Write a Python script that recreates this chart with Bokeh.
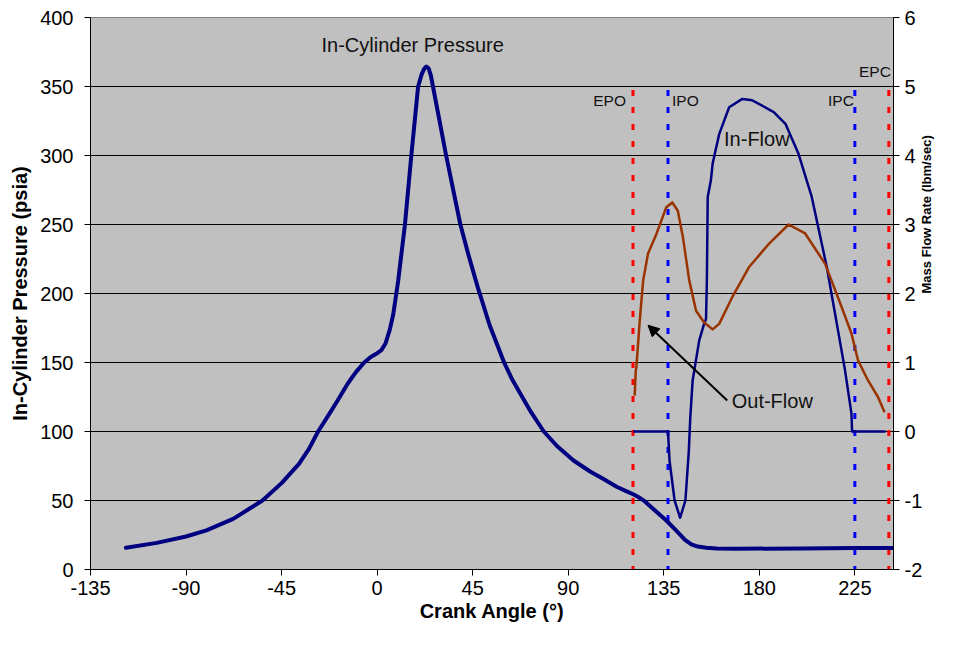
import math
from bokeh.plotting import figure
from bokeh.models import Range1d, LinearAxis, FixedTicker, Label, Arrow, NormalHead
from bokeh.embed import file_html
from bokeh.resources import INLINE

# ---------------- data ----------------
crank_pressure = [-118.3, -103.8, -90, -80.4, -67.8, -60.2, -54, -45, -36.8, -32.1,
                  -27.8, -22, -18.6, -13.9, -10, -6.1, -3, -0.4, 2, 4, 6, 7.6,
                  9.9, 13.1, 16.1, 19.3, 21.0, 22.2, 23.2, 24.3, 25.3, 26.3, 32.5,
                  39.2, 43, 47.3, 53, 59.8, 63.5, 67.6, 72.5, 78.5, 84.7, 92.5,
                  100.3, 106.6, 112.8, 117, 120.6, 123, 126, 131, 136.2, 141, 145,
                  148, 151, 155, 160, 168.9, 200, 225, 246]
pressure_psia = [15.7, 19.3, 23.9, 28.3, 36.7, 44, 50, 62.6, 76.6, 87.4,
                 100, 114, 122.5, 134.6, 143, 150, 154, 156.3, 159, 164, 174, 185,
                 209, 250, 300, 350, 359, 363, 364.5, 363, 358, 350, 300,
                 250, 228, 205, 177, 150, 138, 127, 114, 100, 89.5, 79,
                 71, 65.5, 60, 57, 54.5, 52.5, 49.5, 42.5, 35.5, 28, 21.5,
                 18.2, 16.6, 15.8, 15.3, 15.0, 15.3, 15.5, 15.5]

crank_inflow = [120.6, 137, 137.7, 140.1, 142.7, 145.2, 146.8, 147.5, 148, 148.6,
                151.7, 154, 154.9, 155.3, 155.7, 157.2, 158, 161.1, 165.8, 172,
                176.7, 186.8, 192.3, 198.5, 204.7, 211.8, 220.3, 223.4, 223.7, 239.5]
inflow_rate = [0, 0, -0.42, -1.0, -1.25, -1.0, -0.28, 0.21, 0.45, 0.74,
               1.32, 1.56, 1.63, 2.19, 3.4, 3.64, 3.88, 4.31, 4.7, 4.82,
               4.8, 4.63, 4.46, 4.02, 3.4, 2.38, 0.9, 0.26, 0, 0]

crank_outflow = [121.3, 121.8, 122.1, 123.7, 125.3, 127.6, 131.5, 136.2, 139, 141.6,
                 144, 147, 150.2, 154, 158, 161.1, 167.3, 175.1, 184.5, 193.8,
                 201.6, 211, 218.8, 223.4, 226.5, 231.2, 235.9, 239]
outflow_rate = [0.52, 0.88, 0.93, 1.61, 2.19, 2.58, 2.86, 3.25, 3.32, 3.2,
                2.82, 2.19, 1.75, 1.58, 1.48, 1.56, 1.95, 2.38, 2.72, 3.0,
                2.87, 2.43, 1.8, 1.42, 1.03, 0.74, 0.5, 0.28]

event_names = ["EPO", "IPO", "IPC", "EPC"]
event_angles = [120.5, 137, 225, 241]

x_ticks = [-135, -90, -45, 0, 45, 90, 135, 180, 225]
pressure_ticks = [0, 50, 100, 150, 200, 250, 300, 350, 400]
flow_ticks = [-2, -1, 0, 1, 2, 3, 4, 5, 6]

# ---------------- styles ----------------
FONT = "Liberation Sans"
event_colors = ["#FF0000", "#0000FF", "#0000FF", "#FF0000"]
event_label_y = [340, 340, 340, 361]          # pressure units
event_label_align = ["right", "left", "right", "right"]
event_label_dx = [-7, 4, -1, 2]

p = figure(width=944, height=628,
           x_range=Range1d(-135, 243.2), y_range=Range1d(0, 400),
           output_backend="svg", toolbar_location=None,
           min_border_left=90, min_border_right=45,
           min_border_top=17, min_border_bottom=59)
p.extra_y_ranges = {"flow": Range1d(-2, 6)}

p.background_fill_color = "#C0C0C0"
p.border_fill_color = "white"
p.outline_line_color = "#808080"
p.xgrid.grid_line_color = None
p.ygrid.grid_line_color = "black"
p.ygrid.grid_line_width = 1

def style_axis(ax, label_size="20px"):
    ax.axis_line_color = "black"
    ax.major_tick_line_color = "black"
    ax.major_tick_out = 6
    ax.major_tick_in = 0
    ax.minor_tick_line_color = None
    ax.major_label_text_font = FONT
    ax.major_label_text_font_size = "20px"
    ax.major_label_text_color = "black"
    ax.axis_label_text_font = FONT
    ax.axis_label_text_font_style = "bold"
    ax.axis_label_text_font_size = label_size
    ax.axis_label_text_color = "black"

def plain_labels(ticks):
    return {t: str(t) for t in ticks}

xa = p.xaxis[0]
style_axis(xa)
xa.ticker = FixedTicker(ticks=x_ticks)
xa.major_label_overrides = plain_labels(x_ticks)
xa.axis_label = "Crank Angle (°)"
xa.major_label_standoff = 5
xa.axis_label_standoff = 2

ya = p.yaxis[0]
style_axis(ya)
ya.ticker = FixedTicker(ticks=pressure_ticks)
ya.major_label_overrides = plain_labels(pressure_ticks)
ya.axis_label = "In-Cylinder Pressure (psia)"
ya.major_label_standoff = 11
ya.axis_label_standoff = 6

ra = LinearAxis(y_range_name="flow")
style_axis(ra, label_size="13px")
ra.ticker = FixedTicker(ticks=flow_ticks)
ra.major_label_overrides = plain_labels(flow_ticks)
ra.axis_label = "Mass Flow Rate (lbm/sec)"
ra.axis_label_orientation = math.pi / 2
ra.major_label_standoff = 5
ra.axis_label_standoff = 1
p.add_layout(ra, "right")

p.ygrid.ticker = FixedTicker(ticks=pressure_ticks)

# event lines
for name, ang, col in zip(event_names, event_angles, event_colors):
    p.segment(x0=[ang], y0=[4.95], x1=[ang], y1=[-2], y_range_name="flow",
              line_color=col, line_width=3, line_dash="6 11")

# curves
p.line(crank_pressure, pressure_psia, line_color="#000080", line_width=4,
       line_join="round", line_cap="round")
p.line(crank_inflow, inflow_rate, y_range_name="flow", line_color="#000080",
       line_width=2.5, line_join="round")
p.line(crank_outflow, outflow_rate, y_range_name="flow", line_color="#993300",
       line_width=2.5, line_join="round")

# event labels
for name, ang, ly, al, dx in zip(event_names, event_angles, event_label_y,
                                 event_label_align, event_label_dx):
    p.add_layout(Label(x=ang, y=ly, x_offset=dx, text=name, text_align=al,
                       text_baseline="middle", text_font=FONT,
                       text_font_size="15.5px", text_color="#111111"))

# annotations
p.add_layout(Label(x=-26.2, y=380.4, text="In-Cylinder Pressure", text_align="left",
                   text_baseline="middle", text_font=FONT, text_font_size="20px",
                   text_color="#111111"))
p.add_layout(Label(x=163.4, y=4.24, y_range_name="flow", text="In-Flow",
                   text_align="left", text_baseline="middle", text_font=FONT,
                   text_font_size="20px", text_color="#111111"))
p.add_layout(Label(x=167.0, y=0.435, y_range_name="flow", text="Out-Flow",
                   text_align="left", text_baseline="middle", text_font=FONT,
                   text_font_size="20px", text_color="#111111"))
p.add_layout(Arrow(end=NormalHead(size=11, fill_color="black", line_color="black"),
                   x_start=164.9, y_start=0.45, x_end=127.6, y_end=1.54,
                   y_range_name="flow", line_color="black", line_width=2))

open("out.html", "w").write(file_html(p, INLINE))
